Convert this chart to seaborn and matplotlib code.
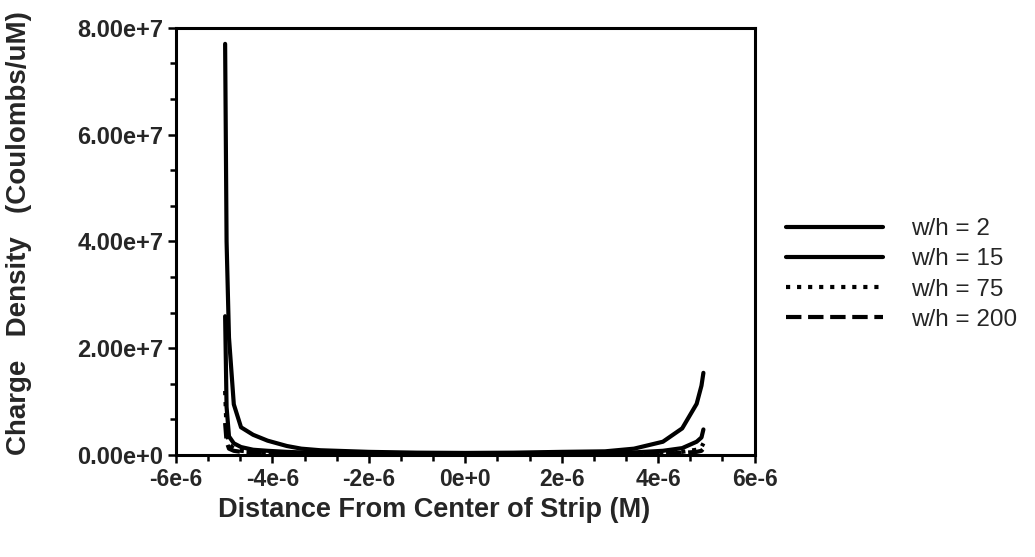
import numpy as np
import pandas as pd
import matplotlib
matplotlib.use("Agg")
import matplotlib.pyplot as plt
import seaborn as sns
from matplotlib.ticker import AutoMinorLocator

# positions across the strip (M)
x_pos = [-4.98e-6, -4.95e-6, -4.9e-6, -4.8e-6, -4.65e-6, -4.4e-6, -4.1e-6, -3.7e-6,
         -3.4e-6, -3.0e-6, -2.0e-6, -1.0e-6, 0.0, 1.0e-6, 2.0e-6, 2.9e-6, 3.5e-6,
         4.1e-6, 4.5e-6, 4.8e-6, 4.9e-6, 4.94e-6]

# charge density (Coulombs/uM)
wh2 = [7.7e7, 4.0e7, 2.2e7, 0.95e7, 0.52e7, 0.38e7, 0.27e7, 0.17e7, 0.12e7, 0.09e7,
       0.06e7, 0.045e7, 0.04e7, 0.045e7, 0.06e7, 0.07e7, 0.12e7, 0.25e7, 0.5e7,
       0.96e7, 1.3e7, 1.54e7]
wh15 = [2.6e7, 0.9e7, 0.35e7, 0.22e7, 0.15e7, 0.10e7, 0.08e7, 0.06e7, 0.05e7, 0.045e7,
        0.04e7, 0.035e7, 0.035e7, 0.035e7, 0.04e7, 0.045e7, 0.05e7, 0.08e7, 0.13e7,
        0.25e7, 0.33e7, 0.48e7]
wh75 = [1.2e7, 0.45e7, 0.2e7, 0.12e7, 0.08e7, 0.06e7, 0.05e7, 0.04e7, 0.035e7, 0.03e7,
        0.03e7, 0.025e7, 0.025e7, 0.025e7, 0.03e7, 0.03e7, 0.035e7, 0.045e7, 0.06e7,
        0.10e7, 0.15e7, 0.22e7]
wh200 = [0.6e7, 0.25e7, 0.12e7, 0.08e7, 0.06e7, 0.05e7, 0.04e7, 0.03e7, 0.025e7, 0.02e7,
         0.02e7, 0.02e7, 0.02e7, 0.02e7, 0.02e7, 0.02e7, 0.025e7, 0.03e7, 0.04e7,
         0.06e7, 0.08e7, 0.12e7]

series = {"w/h = 2": wh2, "w/h = 15": wh15, "w/h = 75": wh75, "w/h = 200": wh200}
styles = {"w/h = 2": "-", "w/h = 15": "-", "w/h = 75": ":", "w/h = 200": "--"}

xticks = [-6e-6, -4e-6, -2e-6, 0, 2e-6, 4e-6, 6e-6]
xtick_labels = ["-6e-6", "-4e-6", "-2e-6", "0e+0", "2e-6", "4e-6", "6e-6"]
yticks = [0, 2e7, 4e7, 6e7, 8e7]
ytick_labels = ["0.00e+0", "2.00e+7", "4.00e+7", "6.00e+7", "8.00e+7"]

sns.set_style("ticks")
plt.rcParams['font.family'] = ['Liberation Sans', 'DejaVu Sans']

fig = plt.figure(figsize=(10.35, 5.57), dpi=100)
ax = fig.add_axes([0.170, 0.183, 0.559, 0.767])

for name, vals in series.items():
    sns.lineplot(x=x_pos, y=vals, ax=ax, color='black', linestyle=styles[name],
                 linewidth=3, label=name)

ax.set_xlim(-6e-6, 6e-6)
ax.set_ylim(0, 8e7)
ax.set_xticks(xticks)
ax.set_xticklabels(xtick_labels, fontsize=16.5, fontweight='bold')
ax.set_yticks(yticks)
ax.set_yticklabels(ytick_labels, fontsize=17, fontweight='bold')
ax.xaxis.set_minor_locator(AutoMinorLocator(3))
ax.yaxis.set_minor_locator(AutoMinorLocator(3))
ax.tick_params(which='major', direction='out', length=6, width=1.8, color='black', pad=3)
ax.tick_params(which='minor', direction='out', length=4, width=1.8, color='black')
for sp in ax.spines.values():
    sp.set_visible(True)
    sp.set_linewidth(2.2)
    sp.set_color('black')

ax.set_xlabel("Distance From Center of Strip (M)", fontsize=19.5, fontweight='bold')
ax.set_ylabel("Charge   Density   (Coulombs/uM)", fontsize=20, fontweight='bold')
ax.xaxis.set_label_coords(0.447, -0.098)
ax.yaxis.set_label_coords(-0.249, 0.52)

ax.legend(loc='upper left', bbox_to_anchor=(786 / 1035, 1 - 218 / 557),
          bbox_transform=fig.transFigure, frameon=False, fontsize=17.5,
          handlelength=4.0, handletextpad=1.15, labelspacing=0.34,
          borderpad=0, borderaxespad=0)

fig.savefig("out.png", dpi=100)
